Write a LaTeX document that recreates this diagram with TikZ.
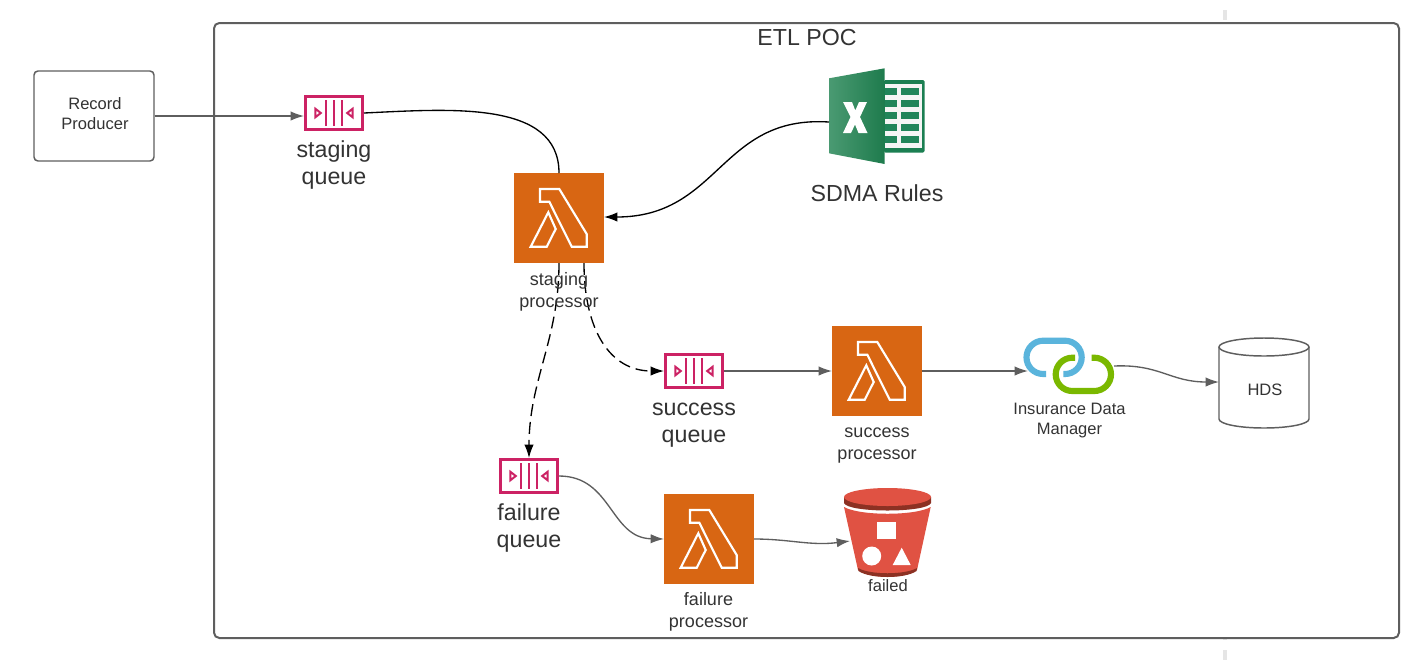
\documentclass[tikz,border=0pt]{standalone}
\usepackage{fontspec}
\setmainfont{Liberation Sans}
\usetikzlibrary{arrows.meta}
\definecolor{inkc}{HTML}{333333}
\definecolor{linec}{HTML}{5E5E5E}
\definecolor{orangec}{HTML}{D86613}
\definecolor{pinkc}{HTML}{CC2264}
\definecolor{redc}{HTML}{E05243}
\definecolor{darkred}{HTML}{8C3123}
\definecolor{xlback}{HTML}{1B7F52}
\definecolor{xlcell}{HTML}{21855A}
\definecolor{xlleft}{HTML}{4A9A72}
\definecolor{xlright}{HTML}{1E7B4D}
\definecolor{linkblue}{HTML}{5AB4DC}
\definecolor{linkgreen}{HTML}{7AB800}
\tikzset{
  x=0.75pt,y=-0.75pt,
  big/.style={text=inkc,align=center,inner sep=0pt,font=\fontsize{17.4}{20.7}\selectfont},
  mid/.style={text=inkc,align=center,inner sep=0pt,font=\fontsize{13.5}{16.5}\selectfont},
  small/.style={text=inkc,align=center,inner sep=0pt,font=\fontsize{12.4}{15}\selectfont},
  lambdabox/.style={fill=orangec,minimum width=67.5pt,minimum height=67.5pt,inner sep=0pt,outer sep=0pt},
  queuebox/.style={draw=pinkc,line width=2pt,fill=white,minimum width=43pt,minimum height=25pt,inner sep=0pt,outer sep=1pt},
  ghost/.style={inner sep=0pt,outer sep=0pt},
  grayarrow/.style={draw=linec,line width=1pt,-{Latex[length=10pt,width=7pt]}},
  blackline/.style={draw=black,line width=1pt},
  blackarrow/.style={blackline,-{Latex[length=10pt,width=7pt]}},
  dashedarrow/.style={blackarrow,dash pattern=on 9pt off 4.5pt},
  lambdaicon/.pic={
    \draw[white,line width=1.6pt,line join=miter]
      (-19,-29) -- (0.3,-29) -- (27.7,16) -- (27.7,28.7) -- (12.7,28.7) -- (-9.7,-16.3) -- (-19,-16.3) -- cycle;
    \draw[white,line width=1.6pt,line join=miter]
      (-10.7,-5.7) -- (-3.3,11) -- (-12.3,28.7) -- (-28.3,28.7) -- cycle;
  },
  queueicon/.pic={
    \draw[pinkc,line width=1.5pt] (-18.7,-4.3) -- (-13.2,0) -- (-18.7,4.3) -- cycle;
    \draw[pinkc,line width=1.5pt] (18.7,-4.3) -- (13.2,0) -- (18.7,4.3) -- cycle;
    \draw[pinkc,line width=1.6pt] (-7.7,-13) -- (-7.7,13) (0,-13) -- (0,13) (7.7,-13) -- (7.7,13);
  },
}
\begin{document}
\begin{tikzpicture}
\useasboundingbox (0,0) rectangle (1414,669);
\fill[white] (0,0) rectangle (1414,669);
% faint ticks
\draw[black!10,line width=2.6pt] (1225,10) -- (1225,20) (1225,638) -- (1225,640) (1225,650) -- (1225,660);
% frame
\node[draw=linec,line width=1.5pt,rounded corners=4pt,minimum width=888.75pt,minimum height=461.25pt,inner sep=0pt,fill=white] (frame) at (806.5,330.5) {};
\node[big] (title) at (807,38) {ETL POC};
% record producer
\node[draw=linec,line width=1.1pt,rounded corners=3pt,minimum width=90pt,minimum height=67.5pt,inner sep=0pt,fill=white] (rp) at (94,116) {};
\node[small] (rplabel) at (95,114) {Record\\Producer};
% lambdas and queues
\node[lambdabox] (l1) at (559,218) {};
\node[lambdabox] (l2) at (877,371) {};
\node[lambdabox] (l3) at (709,539) {};
\pic at (l1) {lambdaicon};
\pic at (l2) {lambdaicon};
\pic at (l3) {lambdaicon};
\node[queuebox] (q1) at (334,113) {};
\node[queuebox] (q2) at (694,371) {};
\node[queuebox] (q3) at (529,476) {};
\pic at (q1) {queueicon};
\pic at (q2) {queueicon};
\pic at (q3) {queueicon};
% excel
\node[ghost,minimum width=72pt,minimum height=63pt] (xl) at (877,122) {};
\fill[xlback,rounded corners=1pt] (884,80) rectangle (924.5,152.5);
\fill[black!4] (884.7,83.5) rectangle (921.5,148);
\foreach \ya/\yb in {88/95,100/107,112/118.5,124/131,136/143}{
  \fill[xlcell] (900.7,\ya) rectangle (919.3,\yb);
  \fill[xlcell] (884.7,\ya) rectangle (896.7,\yb);
}
\shade[left color=xlleft,right color=xlright] (829,78.3) -- (884.7,68.3) -- (884.7,164) -- (829,153.3) -- cycle;
\fill[white] (843,102) -- (852,102) -- (855.3,110.5) -- (859,102) -- (867,102) -- (860,117) -- (867.5,133) -- (858.5,133) -- (855,124.5) -- (851,133) -- (843,133) -- (850.5,117) -- cycle;
\node[big] (xllabel) at (877,193) {SDMA Rules};
% link
\node[ghost,minimum width=64.5pt,minimum height=42pt] (link) at (1071,366) {};
\draw[linkblue,line width=4.6pt,rounded corners=12.5pt] (1046,374) -- (1026.5,374) -- (1026.5,340.7) -- (1081.7,340.7) -- (1081.7,374) -- (1063.3,374);
\draw[linkgreen,line width=4.6pt,rounded corners=12.5pt] (1075,357.7) -- (1055.7,357.7) -- (1055.7,391) -- (1111,391) -- (1111,357.7) -- (1091.7,357.7);
\node[small] (linklabel) at (1069.5,420.5) {Insurance Data\\Manager};
% hds
\node[ghost,minimum width=67.5pt,minimum height=67.5pt] (hds) at (1264,382) {};
\draw[linec,line width=1.1pt,fill=white] (1219,347) -- (1219,419) .. controls (1219,424) and (1239,428) .. (1264,428) .. controls (1289,428) and (1309,424) .. (1309,419) -- (1309,347);
\draw[linec,line width=1.1pt,fill=white] (1264,347) ellipse [x radius=45,y radius=9];
\node[small] (hdslabel) at (1265,390) {HDS};
% bucket
\node[ghost,minimum width=57pt,minimum height=64pt] (bucket) at (888,541) {};
\fill[redc] (844,507) .. controls (860,516) and (915,516) .. (930.7,507) -- (917,570) .. controls (905,579) and (870,579) .. (858,570) -- cycle;
\fill[darkred] (858,568) .. controls (870,575) and (905,575) .. (917,568) -- (916.5,571) .. controls (905,579) and (870,579) .. (858.5,571) -- cycle;
\fill[darkred] (844,497) -- (844,503) .. controls (848,513) and (927,513) .. (931,503) -- (931,497) -- cycle;
\fill[redc] (887.5,497) ellipse [x radius=43.5,y radius=9];
\fill[white] (877.3,521.7) rectangle (896,539.3);
\fill[white] (871.7,556) circle [radius=9.5];
\fill[white] (901.7,547.7) -- (910.7,565) -- (892.7,565) -- cycle;
\node[small] (bucketlabel) at (888,586) {failed};
% connectors
\draw[grayarrow] (rp.east) -- (rp.east -| q1.west);
\draw[blackline] (q1.east) .. controls (450,109) and (559,100) .. (l1.north);
\draw[blackarrow] (xl.west) .. controls (720,115) and (720,217) .. (604,217);
\draw[dashedarrow] (l1.south) .. controls (559,340) and (529,380) .. (q3.north);
\draw[dashedarrow] ([xshift=18.75pt]l1.south) .. controls (584,330) and (610,371) .. (q2.west);
\draw[grayarrow] (q2.east) -- (l2.west);
\draw[grayarrow] (l2.east) -- (l2.east -| link.west);
\draw[grayarrow] (link.east) .. controls (1160,364) and (1170,382) .. (hds.west);
\draw[grayarrow] (q3.east) .. controls (612,476) and (610,538) .. (l3.west);
\draw[grayarrow] (l3.east) .. controls (790,539) and (810,546) .. (bucket.west);
% labels
\node[big] (q1label) at (334,165) {staging\\queue};
\node[big] (q2label) at (694,425) {success\\queue};
\node[big] (q3label) at (529,528) {failure\\queue};
\node[mid] (l1label) at (559,292) {staging\\processor};
\node[mid] (l2label) at (877,446) {success\\processor};
\node[mid] (l3label) at (708.5,612) {failure\\processor};
\end{tikzpicture}
\end{document}
